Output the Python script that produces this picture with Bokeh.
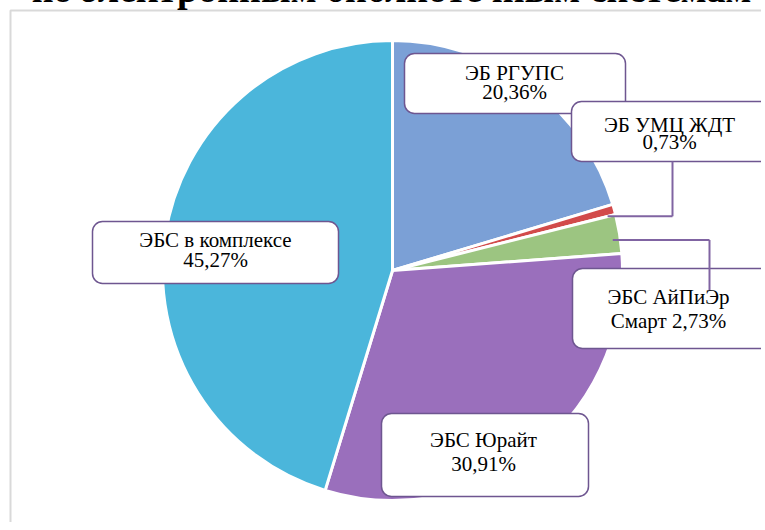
import numpy as np
from bokeh.plotting import figure
from bokeh.models import BoxAnnotation, Label, Arrow, Range1d, ColumnDataSource
from bokeh.embed import file_html
from bokeh.resources import INLINE

# ---- data ----
names = ["ЭБ РГУПС", "ЭБ УМЦ ЖДТ", "ЭБС АйПиЭр Смарт", "ЭБС Юрайт", "ЭБС в комплексе"]
shares = [20.36, 0.73, 2.73, 30.91, 45.27]
colors = ["#7BA0D6", "#D24B4B", "#9CC581", "#9A6FBC", "#4BB6DB"]
title_text = "по электронным библиотечным системам"

W, H = 765, 526
OFF = 4  # canvas sits OFF px above/left of the page origin


def X(px):
    return px + OFF


def Y(py):
    return H - (py + OFF)


SERIF = "'Liberation Serif', 'Times New Roman', serif"

p = figure(width=W, height=H, x_range=Range1d(0, W), y_range=Range1d(0, H),
           output_backend="svg", toolbar_location=None, min_border=0,
           x_axis_type=None, y_axis_type=None, outline_line_color=None,
           margin=(-OFF, 0, 0, -OFF))
p.grid.visible = False
p.background_fill_color = "white"
p.border_fill_color = "white"

# chart-area border
p.add_layout(BoxAnnotation(left=X(10), right=W + 30, top=Y(10), bottom=-30,
                           fill_alpha=0, line_color="#D9D9D9", line_alpha=1, line_width=2))

# ---- pie ----
frac = np.array(shares) / sum(shares)
cum = np.concatenate([[0], np.cumsum(frac)])
start = np.pi / 2 - 2 * np.pi * cum[:-1]
end = np.pi / 2 - 2 * np.pi * cum[1:]
mid = (start + end) / 2
cx, cy, r = X(392), Y(270), 230
src = ColumnDataSource(dict(start=start, end=end, color=colors, name=names, share=shares))
p.wedge(x=cx, y=cy, radius=r, start_angle="start", end_angle="end", direction="clock",
        fill_color="color", line_color="white", line_width=3, source=src)

# ---- labels ----
def fmt(v):
    return f"{v:.2f}".replace(".", ",") + "%"

label_lines = [[n, fmt(v)] for n, v in zip(names, shares)]
label_lines[2] = ["ЭБС АйПиЭр", "Смарт " + fmt(shares[2])]

boxes = [(404, 625, 53, 113), (571, 790, 101, 161), (572, 790, 268, 348),
         (381, 588, 413, 496), (92, 338, 221, 283)]
text_x = [514, 669, 668, 483, 215]
text_y = [(72, 91), (124, 141), (296, 320), (439, 463), (239, 259)]

line_col = "#8064A2"
box_col = "#6E5690"

for (l, rr, t, b) in boxes:
    p.add_layout(BoxAnnotation(left=X(l), right=X(rr), top=Y(t), bottom=Y(b),
                               fill_color="white", fill_alpha=1,
                               line_color=box_col, line_alpha=1, line_width=1.5,
                               border_radius=10))

# leader lines (red and green slices)
for i, (hx, vy) in [(1, (672, 161)), (2, (709, 290))]:
    sx = cx + 0.97 * r * np.cos(mid[i])
    sy = cy + 0.97 * r * np.sin(mid[i]) - 5
    p.add_layout(Arrow(end=None, x_start=sx, y_start=sy, x_end=X(hx), y_end=sy,
                       line_color=line_col, line_width=2))
    p.add_layout(Arrow(end=None, x_start=X(hx), y_start=sy, x_end=X(hx), y_end=Y(vy),
                       line_color=line_col, line_width=2))

for lines, tx, tys in zip(label_lines, text_x, text_y):
    for txt, ty in zip(lines, tys):
        p.add_layout(Label(x=X(tx), y=Y(ty), text=txt, text_align="center", text_baseline="middle",
                           text_font=SERIF, text_font_size="21px", text_color="black"))

# title (only the bottom of its last line is visible)
p.add_layout(Label(x=X(391), y=Y(-12), text=title_text, text_align="center",
                   text_baseline="alphabetic", text_font=SERIF,
                   text_font_style="bold", text_font_size="38px", text_color="black"))

open("out.html", "w").write(file_html(p, INLINE))
